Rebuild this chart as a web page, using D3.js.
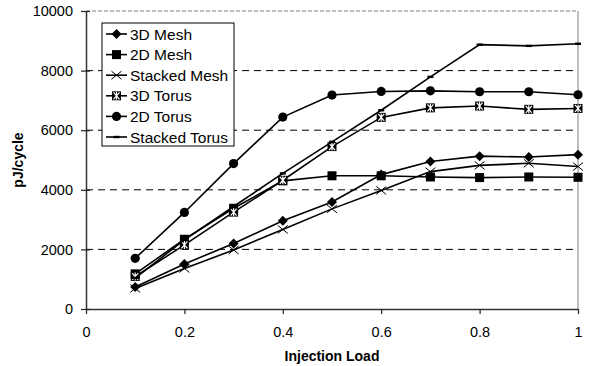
<!DOCTYPE html>
<html>
<head>
<meta charset="utf-8">
<script src="https://cdn.jsdelivr.net/npm/d3@7"></script>
<style>
  body { margin: 0; background: #fff; }
  svg { font-family: "Liberation Sans", Arial, sans-serif; }
</style>
</head>
<body>
<svg id="chart" width="607" height="366"></svg>
<script>
// injection load values
const loads = [0.1, 0.2, 0.3, 0.4, 0.5, 0.6, 0.7, 0.8, 0.9, 1.0];
// pJ/cycle per topology
const mesh3D = [740, 1510, 2200, 2960, 3590, 4510, 4950, 5130, 5100, 5180];
const mesh2D = [1180, 2340, 3380, 4300, 4470, 4470, 4430, 4410, 4430, 4420];
const meshStacked = [690, 1360, 1980, 2670, 3360, 3980, 4610, 4820, 4890, 4780];
const torus3D = [1090, 2150, 3250, 4320, 5450, 6430, 6750, 6810, 6700, 6730];
const torus2D = [1700, 3240, 4880, 6440, 7180, 7300, 7320, 7290, 7290, 7190];
const torusStacked = [1040, 2320, 3440, 4550, 5610, 6670, 7790, 8870, 8830, 8900];
const seriesNames = ["3D Mesh", "2D Mesh", "Stacked Mesh", "3D Torus", "2D Torus", "Stacked Torus"];
const xTicks = [0, 0.2, 0.4, 0.6, 0.8, 1];
const yTicks = [0, 2000, 4000, 6000, 8000, 10000];

const series = [
  {name: seriesNames[0], values: mesh3D, marker: "diamond"},
  {name: seriesNames[1], values: mesh2D, marker: "square"},
  {name: seriesNames[2], values: meshStacked, marker: "cross"},
  {name: seriesNames[3], values: torus3D, marker: "xsquare"},
  {name: seriesNames[4], values: torus2D, marker: "circle"},
  {name: seriesNames[5], values: torusStacked, marker: "dash"}
];

const margin = {top: 11, right: 29, bottom: 57, left: 86};
const width = 607 - margin.left - margin.right;
const height = 366 - margin.top - margin.bottom;

const svg = d3.select("#chart");
const g = svg.append("g").attr("transform", `translate(${margin.left},${margin.top})`);

const x = d3.scaleLinear().domain([0, 1]).range([0, width]);
const y = d3.scaleLinear().domain([0, 10000]).range([height, 0]);

// grid lines
g.append("g").selectAll("line")
  .data(yTicks.filter(d => d > 0 && d < 10000))
  .join("line")
  .attr("x1", 0).attr("x2", width)
  .attr("y1", d => y(d)).attr("y2", d => y(d))
  .attr("stroke", "#000").attr("stroke-width", 1)
  .attr("stroke-dasharray", "7,5");

// top and right frame (gray)
g.append("line").attr("x1", 0).attr("x2", width).attr("y1", y(10000)).attr("y2", y(10000))
  .attr("stroke", "#aaa").attr("stroke-width", 1.5).attr("stroke-dasharray", "4,2");
g.append("line").attr("x1", width).attr("x2", width).attr("y1", 0).attr("y2", height)
  .attr("stroke", "#aaa").attr("stroke-width", 1.5);

// axes
const xAxis = g.append("g").attr("transform", `translate(0,${height})`)
  .call(d3.axisBottom(x).tickValues(xTicks).tickFormat(d3.format("")).tickSize(5).tickPadding(13).tickSizeOuter(0));
const yAxis = g.append("g")
  .call(d3.axisLeft(y).tickValues(yTicks).tickFormat(d => d).tickSize(5).tickPadding(8).tickSizeOuter(0));
yAxis.selectAll(".tick line").attr("x1", 4);
[xAxis, yAxis].forEach(a => {
  a.select(".domain").attr("stroke", "#333").attr("stroke-width", 1.5);
  a.selectAll(".tick line").attr("stroke", "#222").attr("stroke-width", 1.2);
  a.selectAll("text").attr("font-size", 14.5).attr("fill", "#000")
    .attr("font-family", "Liberation Sans, Arial, sans-serif");
});

// axis titles
svg.append("text").attr("x", margin.left + x(0.5)).attr("y", 361)
  .attr("text-anchor", "middle").attr("font-size", 14).attr("font-weight", "bold")
  .text("Injection Load");
svg.append("text").attr("transform", `translate(23,${margin.top + y(5000)}) rotate(-90)`)
  .attr("text-anchor", "middle").attr("font-size", 14).attr("font-weight", "bold")
  .text("pJ/cycle");

function drawMarker(sel, type) {
  if (type === "diamond") {
    sel.append("path").attr("d", "M0,-5L5,0L0,5L-5,0Z").attr("fill", "#000");
  } else if (type === "square") {
    sel.append("rect").attr("x", -4.5).attr("y", -4.5).attr("width", 9).attr("height", 9).attr("fill", "#000");
  } else if (type === "cross") {
    sel.append("path").attr("d", "M-5,-4L5,4M-5,4L5,-4").attr("stroke", "#000").attr("stroke-width", 1).attr("fill", "none");
  } else if (type === "xsquare") {
    sel.append("rect").attr("x", -4.5).attr("y", -4.5).attr("width", 9).attr("height", 9).attr("fill", "#000");
    sel.append("path").attr("d", "M-3,-3.5L3,3.5M-3,3.5L3,-3.5M0,-4V4").attr("stroke", "#fff").attr("stroke-width", 1.2);
  } else if (type === "circle") {
    sel.append("circle").attr("r", 4.6).attr("fill", "#000");
  } else if (type === "dash") {
    sel.append("rect").attr("x", -3).attr("y", -1.2).attr("width", 6).attr("height", 2.4).attr("fill", "#000");
  }
}

const line = d3.line().x((d, i) => x(loads[i])).y(d => y(d));

series.forEach(s => {
  g.append("path").datum(s.values)
    .attr("d", line).attr("fill", "none")
    .attr("stroke", "#000").attr("stroke-width", 1.6);
  g.append("g").selectAll("g")
    .data(s.values)
    .join("g")
    .attr("transform", (d, i) => `translate(${x(loads[i])},${y(d)})`)
    .each(function() { drawMarker(d3.select(this), s.marker); });
});

// legend
const legend = svg.append("g").attr("transform", "translate(102,23)");
legend.append("rect").attr("width", 132).attr("height", 123)
  .attr("fill", "#fff").attr("stroke", "#000").attr("stroke-width", 1);
const rows = legend.selectAll("g.row").data(series).join("g")
  .attr("class", "row")
  .attr("transform", (d, i) => `translate(0,${11 + i * 20.6})`);
rows.append("line").attr("x1", 4).attr("x2", 25).attr("y1", 0).attr("y2", 0)
  .attr("stroke", "#000").attr("stroke-width", 1.6);
rows.append("g").attr("transform", "translate(14.5,0)")
  .each(function(d) { drawMarker(d3.select(this), d.marker); });
rows.append("text").attr("x", 28).attr("y", 0).attr("dy", "0.36em")
  .attr("font-size", 15.5).text(d => d.name);
</script>
</body>
</html>
